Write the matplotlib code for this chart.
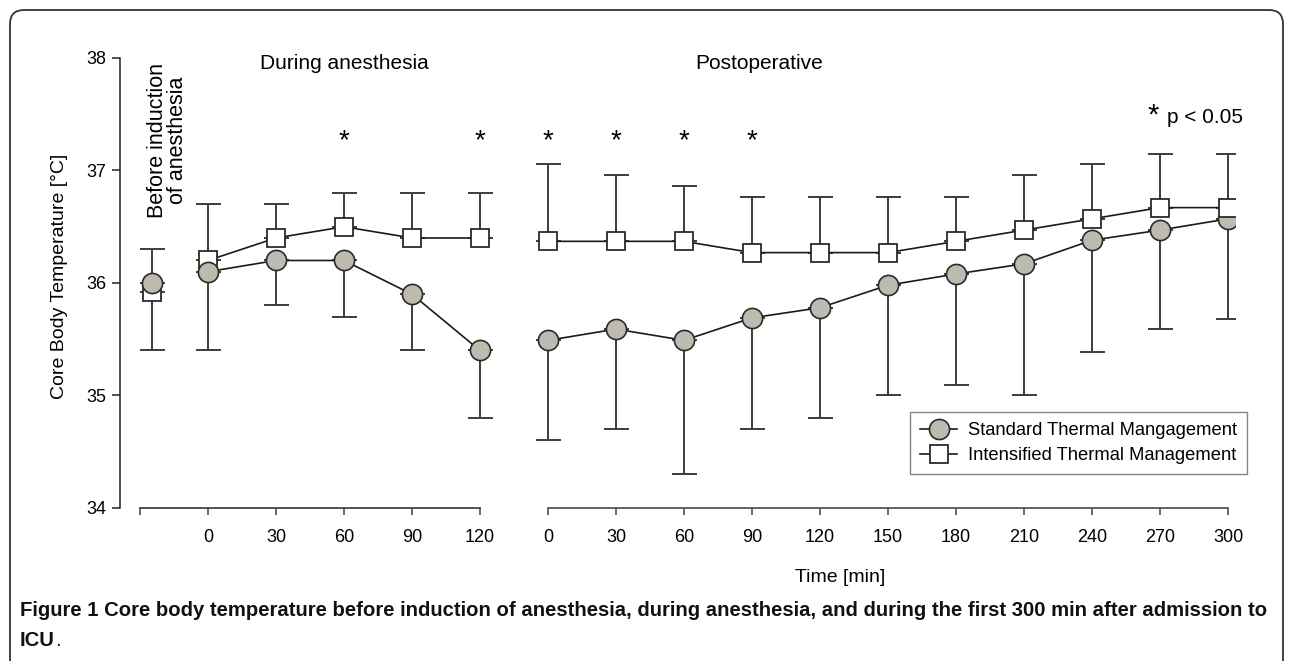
import numpy as np
import matplotlib.pyplot as plt
from matplotlib.lines import Line2D
from matplotlib.patches import FancyBboxPatch
from matplotlib.transforms import IdentityTransform

plt.rcParams['font.family'] = ['Liberation Sans', 'DejaVu Sans']

# --- data (temperatures in °C) ---
# time points: before induction, during anesthesia, postoperative
t_anest = [0, 30, 60, 90, 120]
t_postop = [0, 30, 60, 90, 120, 150, 180, 210, 240, 270, 300]

# standard thermal management (circles), mean and lower bound of error bar
std_before = 36.0
std_before_upper = 36.3
std_anest = [36.1, 36.2, 36.2, 35.9, 35.4]
std_anest_lower = [35.4, 35.8, 35.7, 35.4, 34.8]
std_postop = [35.49, 35.59, 35.49, 35.69, 35.78, 35.98, 36.08, 36.17, 36.38, 36.47, 36.57]
std_postop_lower = [34.60, 34.70, 34.30, 34.70, 34.80, 35.00, 35.09, 35.00, 35.39, 35.59, 35.68]

# intensified thermal management (squares), mean and upper bound of error bar
int_before = 35.92
int_before_lower = 35.40
int_anest = [36.2, 36.4, 36.5, 36.4, 36.4]
int_anest_upper = [36.7, 36.7, 36.8, 36.8, 36.8]
int_postop = [36.37, 36.37, 36.37, 36.27, 36.27, 36.27, 36.37, 36.47, 36.57, 36.67, 36.67]
int_postop_upper = [37.06, 36.96, 36.86, 36.76, 36.76, 36.76, 36.76, 36.96, 37.06, 37.15, 37.15]

# significant time points (*)
sig_anest = [60, 120]
sig_postop = [0, 30, 60, 90]

# --- positions on a shared x axis (one unit = 30 min) ---
x_before = -0.82
x_anest = np.array(t_anest) / 30
x_postop = 5 + np.array(t_postop) / 30

fig = plt.figure(figsize=(12.9, 6.61), dpi=100)
ax = fig.add_axes([0.0930, 0.2315, 0.8642, 0.6808])

circ_fc = '#bdbbaf'
edge = '#2a2a2a'
ecol = '#3c3c3c'
circ_kw = dict(marker='o', ms=14.5, mfc=circ_fc, mec=edge, mew=1.2, color='#1a1a1a', lw=1.2)
sq_kw = dict(marker='s', ms=13.5, mfc='white', mec=edge, mew=1.3, color='#1a1a1a', lw=1.2)
eb_kw = dict(fmt='none', ecolor=ecol, elinewidth=1.4, capsize=9, capthick=1.4)

# before induction + during anesthesia: squares under circles
ax.errorbar([x_before], [int_before], yerr=[[int_before - int_before_lower], [0]], **eb_kw)
ax.errorbar(x_anest, int_anest, yerr=[np.zeros(5), np.array(int_anest_upper) - np.array(int_anest)], **eb_kw)
ax.plot([x_before], [int_before], ls='none', **{k: v for k, v in sq_kw.items() if k != 'lw'})
ax.plot(x_anest, int_anest, **sq_kw)

ax.errorbar([x_before], [std_before], yerr=[[0], [std_before_upper - std_before]], **eb_kw)
ax.errorbar(x_anest, std_anest, yerr=[np.array(std_anest) - np.array(std_anest_lower), np.zeros(5)], **eb_kw)
ax.plot([x_before], [std_before], ls='none', **{k: v for k, v in circ_kw.items() if k != 'lw'})
ax.plot(x_anest, std_anest, **circ_kw)

# postoperative: circles under squares
ax.errorbar(x_postop, std_postop, yerr=[np.array(std_postop) - np.array(std_postop_lower), np.zeros(11)], **eb_kw)
ax.plot(x_postop, std_postop, **circ_kw)
ax.errorbar(x_postop, int_postop, yerr=[np.zeros(11), np.array(int_postop_upper) - np.array(int_postop)], **eb_kw)
ax.plot(x_postop, int_postop, **sq_kw)

# significance stars
sig_x = list(np.array(sig_anest) / 30) + list(5 + np.array(sig_postop) / 30)
for xs in sig_x:
    ax.text(xs, 37.26, '*', ha='center', va='center', fontsize=20)

ax.text(13.9, 37.49, '*', ha='center', va='center', fontsize=21)
ax.text(14.1, 37.47, 'p < 0.05', ha='left', va='center', fontsize=15)

# axes styling
ax.set_xlim(-1.294, 15.1)
ax.set_ylim(34, 38)
for s in ['top', 'right', 'bottom']:
    ax.spines[s].set_visible(False)
ax.spines['left'].set_color('#222')
ax.spines['left'].set_linewidth(1.1)
ax.set_yticks([34, 35, 36, 37, 38])
ax.tick_params(axis='y', length=6, width=1.1, labelsize=13, color='#222', pad=4)

tick_pos = [-1] + list(x_anest) + list(x_postop)
tick_lab = [''] + [str(t) for t in t_anest] + [str(t) for t in t_postop]
ax.set_xticks(tick_pos)
ax.set_xticklabels(tick_lab)
ax.tick_params(axis='x', length=5, width=1.1, labelsize=13, color='#444', pad=10)

# broken x axis: two segments
ax.plot([-1, 4], [34, 34], color='#444', lw=1.3, clip_on=False)
ax.plot([5, 15], [34, 34], color='#555', lw=1.3, clip_on=False)

# section headings
ax.text(2.0, 37.95, 'During anesthesia', ha='center', va='center', fontsize=15)
ax.text(8.1, 37.95, 'Postoperative', ha='center', va='center', fontsize=15)
ax.text(-0.59, 37.27, 'Before induction\nof anesthesia', ha='center', va='center',
        rotation=90, fontsize=15.5, multialignment='center', linespacing=0.95)

fig.text(60 / 1290, 1 - 276 / 661, 'Core Body Temperature [°C]', rotation=90,
         ha='center', va='center', fontsize=14)
fig.text(840 / 1290, 1 - 578 / 661, 'Time [min]', ha='center', va='center', fontsize=14)

# legend
handles = [Line2D([], [], **circ_kw), Line2D([], [], **sq_kw)]
leg = ax.legend(handles, ['Standard Thermal Mangagement', 'Intensified Thermal Management'],
                loc='upper right', bbox_to_anchor=(1247 / 1290, 1 - 412 / 661),
                bbox_transform=fig.transFigure, borderaxespad=0, fontsize=13.2,
                fancybox=False, edgecolor='#666', handlelength=2.0, handletextpad=0.6,
                labelspacing=0.45, borderpad=0.55, frameon=True)
leg.get_frame().set_linewidth(1.0)

# caption
fig.text(20 / 1290, 1 - 610 / 661,
         'Figure 1 Core body temperature before induction of anesthesia, during anesthesia, '
         'and during the first 300 min after admission to',
         ha='left', va='center', fontsize=14.6, fontweight='bold', color='#111')
icu = fig.text(20 / 1290, 1 - 640 / 661, 'ICU', ha='left', va='center', fontsize=14.6,
               fontweight='bold', color='#111')
ax.annotate('.', xy=(1, 0), xycoords=icu, ha='left', va='bottom', fontsize=14.6,
            color='#111', annotation_clip=False)

# rounded outer frame
frame = FancyBboxPatch((10, -20), 1273, 661 - 10 + 20, boxstyle='round,pad=0,rounding_size=14',
                       transform=IdentityTransform(), fill=False, edgecolor='#333', lw=1.3)
fig.patches.append(frame)

fig.savefig('out.png', dpi=100)
